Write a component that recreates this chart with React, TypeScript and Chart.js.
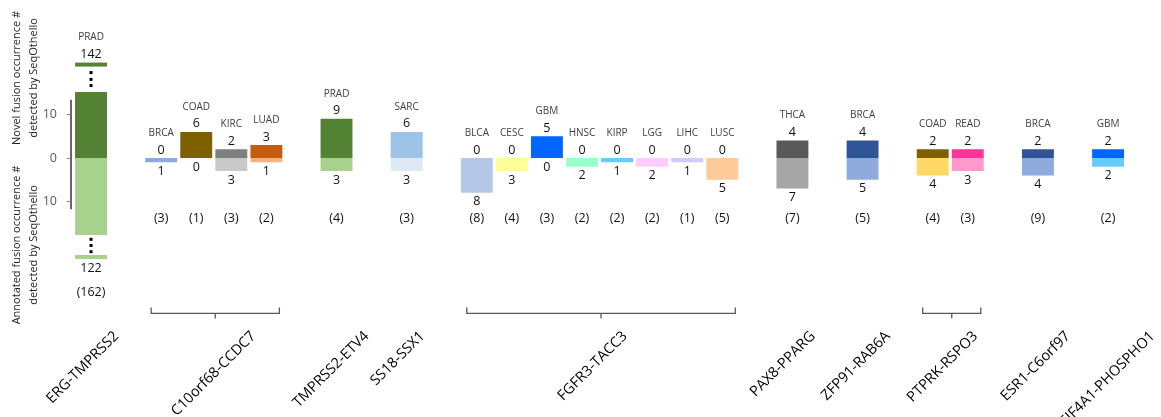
import React, { useEffect, useRef } from 'react';
import { Chart, registerables } from 'chart.js';

Chart.register(...registerables);

// ---- data ----
const fusions = [
  'ERG-TMPRSS2', 'C10orf68-CCDC7', 'TMPRSS2-ETV4', 'SS18-SSX1', 'FGFR3-TACC3',
  'PAX8-PPARG', 'ZFP91-RAB6A', 'PTPRK-RSPO3', 'ESR1-C6orf97', 'EIF4A1-PHOSPHO1',
];
// fusion index of each bar
const barFusion = [0, 1, 1, 1, 1, 2, 3, 4, 4, 4, 4, 4, 4, 4, 4, 5, 6, 7, 7, 8, 9];
const cancerTypes = [
  'PRAD', 'BRCA', 'COAD', 'KIRC', 'LUAD', 'PRAD', 'SARC',
  'BLCA', 'CESC', 'GBM', 'HNSC', 'KIRP', 'LGG', 'LIHC', 'LUSC',
  'THCA', 'BRCA', 'COAD', 'READ', 'BRCA', 'GBM',
];
const novelCounts = [142, 0, 6, 2, 3, 9, 6, 0, 0, 5, 0, 0, 0, 0, 0, 4, 4, 2, 2, 2, 2];
const annotatedCounts = [122, 1, 0, 3, 1, 3, 3, 8, 3, 0, 2, 1, 2, 1, 5, 7, 5, 4, 3, 4, 2];
const totalCounts = [162, 3, 1, 3, 2, 4, 3, 8, 4, 3, 2, 2, 2, 1, 5, 7, 5, 4, 3, 9, 2];
const yTicks = [-10, 0, 10];
// axis break: values beyond these are drawn truncated
const novelCap = 15.2;
const annotatedCap = 17.7;

// ---- styles ----
const novelColors = [
  '#548235', '#2F5597', '#7F6000', '#7F7F7F', '#C55A11', '#548235', '#9DC3E6',
  '#2F5597', '#CCCC00', '#0066FF', '#00CC99', '#0099CC', '#FF66FF', '#9999FF', '#F4B183',
  '#595959', '#2F5597', '#7F6000', '#FF3399', '#2F5597', '#0066FF',
];
const annotatedColors = [
  '#A9D18E', '#8FAADC', '#FFD966', '#C9C9C9', '#F4B183', '#A9D18E', '#DEEBF7',
  '#B4C7E7', '#FFFF99', '#66CCFF', '#99FFCC', '#66CCFF', '#FFCCFF', '#CCCCFF', '#FFCC99',
  '#A6A6A6', '#8FAADC', '#FFD966', '#FF99CC', '#8FAADC', '#66CCFF',
];
const FONT = '"Open Sans", "DejaVu Sans", sans-serif';

export default function App() {
  const ref = useRef<HTMLCanvasElement>(null);

  useEffect(() => {
    const slotLabels: string[] = [];
    const slotOfBar: number[] = [];
    barFusion.forEach((f, i) => {
      if (i > 0 && f !== barFusion[i - 1]) slotLabels.push('');
      slotOfBar.push(slotLabels.length);
      slotLabels.push(fusions[f] + ' ' + cancerTypes[i]);
    });
    const n = slotLabels.length;
    const novelData: (number | null)[] = new Array(n).fill(null);
    const annData: (number | null)[] = new Array(n).fill(null);
    const novelBg: string[] = new Array(n).fill('rgba(0,0,0,0)');
    const annBg: string[] = new Array(n).fill('rgba(0,0,0,0)');
    slotOfBar.forEach((s, i) => {
      novelData[s] = novelCounts[i] > 0 ? Math.min(novelCounts[i], novelCap) : null;
      annData[s] = annotatedCounts[i] > 0 ? -Math.min(annotatedCounts[i], annotatedCap) : null;
      novelBg[s] = novelColors[i];
      annBg[s] = annotatedColors[i];
    });

    const plugin = {
      id: 'fusionDecor',
      afterDatasetsDraw(chart: any) {
        const { ctx, chartArea } = chart;
        const ys = chart.scales.y;
        const xs = chart.scales.x;
        ctx.save();

        // y axis line and tick marks
        const ax = chartArea.left - 2.5;
        ctx.strokeStyle = '#000';
        ctx.lineWidth = 1.2;
        ctx.beginPath();
        ctx.moveTo(ax, ys.getPixelForValue(13.4));
        ctx.lineTo(ax, ys.getPixelForValue(-11.8));
        ctx.stroke();
        ctx.strokeStyle = '#808080';
        ctx.lineWidth = 1;
        yTicks.forEach((v) => {
          const y = Math.round(ys.getPixelForValue(v)) + 0.5;
          ctx.beginPath();
          ctx.moveTo(ax - 4, y);
          ctx.lineTo(ax, y);
          ctx.stroke();
        });

        // y titles
        ctx.fillStyle = '#1f1f1f';
        ctx.font = `11px ${FONT}`;
        ctx.textAlign = 'center';
        ctx.textBaseline = 'middle';
        const titles: [string[], number][] = [
          [['Novel fusion occurrence #', 'detected by SeqOthello'], 18.4],
          [['Annotated fusion occurrence #', 'detected by SeqOthello'], -20],
        ];
        titles.forEach(([lines, v]) => {
          const cy = ys.getPixelForValue(v);
          lines.forEach((t, k) => {
            ctx.save();
            ctx.translate(chartArea.left - 56.5 + k * 17, cy);
            ctx.rotate(-Math.PI / 2);
            ctx.fillText(t, 0, 0);
            ctx.restore();
          });
        });

        // bar labels
        const rowY = ys.getPixelForValue(-14);
        const half = (xs.getPixelForValue(1) - xs.getPixelForValue(0)) * 0.455;
        barFusion.forEach((f, i) => {
          const s = slotOfBar[i];
          const x = xs.getPixelForValue(s);
          let top = ys.getPixelForValue(Math.min(novelCounts[i], novelCap));
          let bottom = ys.getPixelForValue(-Math.min(annotatedCounts[i], annotatedCap));
          const broken = annotatedCounts[i] > annotatedCap;
          ctx.fillStyle = '#000';
          if (novelCounts[i] > novelCap) {
            [6.3, 12.5, 19.3].forEach((d) => ctx.fillRect(x - 1.5, top - d - 1.5, 3, 3));
            ctx.fillStyle = novelColors[i];
            ctx.fillRect(x - half, top - 29.3, half * 2, 4);
            top -= 29.3;
          }
          ctx.fillStyle = '#000';
          if (broken) {
            [4.3, 10.5, 16.7].forEach((d) => ctx.fillRect(x - 1.5, bottom + d - 1.5, 3, 3));
            ctx.fillStyle = annotatedColors[i];
            ctx.fillRect(x - half, bottom + 20, half * 2, 4);
            bottom += 24;
          }
          ctx.textAlign = 'center';
          ctx.textBaseline = 'middle';
          const nY = top - 8;
          ctx.font = `12.5px ${FONT}`;
          ctx.fillStyle = '#111';
          ctx.fillText(String(novelCounts[i]), x, nY);
          ctx.font = `10px ${FONT}`;
          ctx.fillStyle = '#404040';
          ctx.fillText(cancerTypes[i], x, nY - 17);
          const aY = bottom + 9;
          ctx.font = `12.5px ${FONT}`;
          ctx.fillStyle = '#111';
          ctx.fillText(String(annotatedCounts[i]), x, aY);
          ctx.fillText(`(${totalCounts[i]})`, x, broken ? aY + 24 : rowY);
        });

        // group brackets and fusion labels
        fusions.forEach((name, f) => {
          const idx = barFusion.map((g, i) => (g === f ? i : -1)).filter((i) => i >= 0);
          const x0 = xs.getPixelForValue(slotOfBar[idx[0]]);
          const x1 = xs.getPixelForValue(slotOfBar[idx[idx.length - 1]]);
          const cx = (x0 + x1) / 2;
          if (idx.length > 1) {
            const by = chartArea.bottom + 7.5;
            ctx.strokeStyle = '#595959';
            ctx.lineWidth = 1.3;
            ctx.beginPath();
            ctx.moveTo(x0 - 10, by - 6);
            ctx.lineTo(x0 - 10, by);
            ctx.lineTo(x1 + 13, by);
            ctx.lineTo(x1 + 13, by - 6);
            ctx.moveTo(cx + 1.5, by);
            ctx.lineTo(cx + 1.5, by + 5);
            ctx.stroke();
          }
          const endOff = 4.8 * name.length - 24;
          ctx.save();
          ctx.translate(cx + endOff - 3.5, chartArea.bottom + 28);
          ctx.rotate(-Math.PI / 4);
          ctx.textAlign = 'right';
          ctx.textBaseline = 'middle';
          ctx.font = `14.5px ${FONT}`;
          ctx.fillStyle = '#000';
          ctx.fillText(name, 0, 0);
          ctx.restore();
        });

        ctx.restore();
      },
    };

    const chart = new Chart(ref.current!, {
      type: 'bar',
      data: {
        labels: slotLabels,
        datasets: [
          { label: 'Novel', data: novelData, backgroundColor: novelBg, stack: 's', borderWidth: 0 },
          { label: 'Annotated', data: annData, backgroundColor: annBg, stack: 's', borderWidth: 0 },
        ],
      },
      options: {
        animation: false,
        responsive: false,
        devicePixelRatio: 1,
        datasets: { bar: { barPercentage: 0.91, categoryPercentage: 1 } },
        layout: { padding: { left: 0, right: 35.4, top: 10.1, bottom: 111.1 } },
        plugins: { legend: { display: false }, tooltip: { enabled: false } },
        scales: {
          x: { type: 'category', stacked: true, display: false },
          y: {
            stacked: true,
            min: -34,
            max: 34,
            afterBuildTicks: (s: any) => {
              s.ticks = yTicks.map((v) => ({ value: v }));
            },
            afterFit: (s: any) => {
              s.width = 73.5;
              s.paddingTop = 0;
              s.paddingBottom = 0;
              s.paddingLeft = 0;
              s.paddingRight = 0;
            },
            grid: { display: false, drawTicks: false },
            border: { display: false },
            ticks: {
              callback: (v: any) => String(Math.abs(Number(v))),
              color: '#595959',
              padding: 16.5,
              font: { family: FONT, size: 12.5 },
            },
          },
        },
      },
      plugins: [plugin],
    } as any);
    return () => chart.destroy();
  }, []);

  return (
    <div style={{ position: 'fixed', left: 0, top: 0, width: 1161, height: 417, background: '#fff' }}>
      <canvas ref={ref} width={1161} height={417} style={{ display: 'block' }} />
    </div>
  );
}
